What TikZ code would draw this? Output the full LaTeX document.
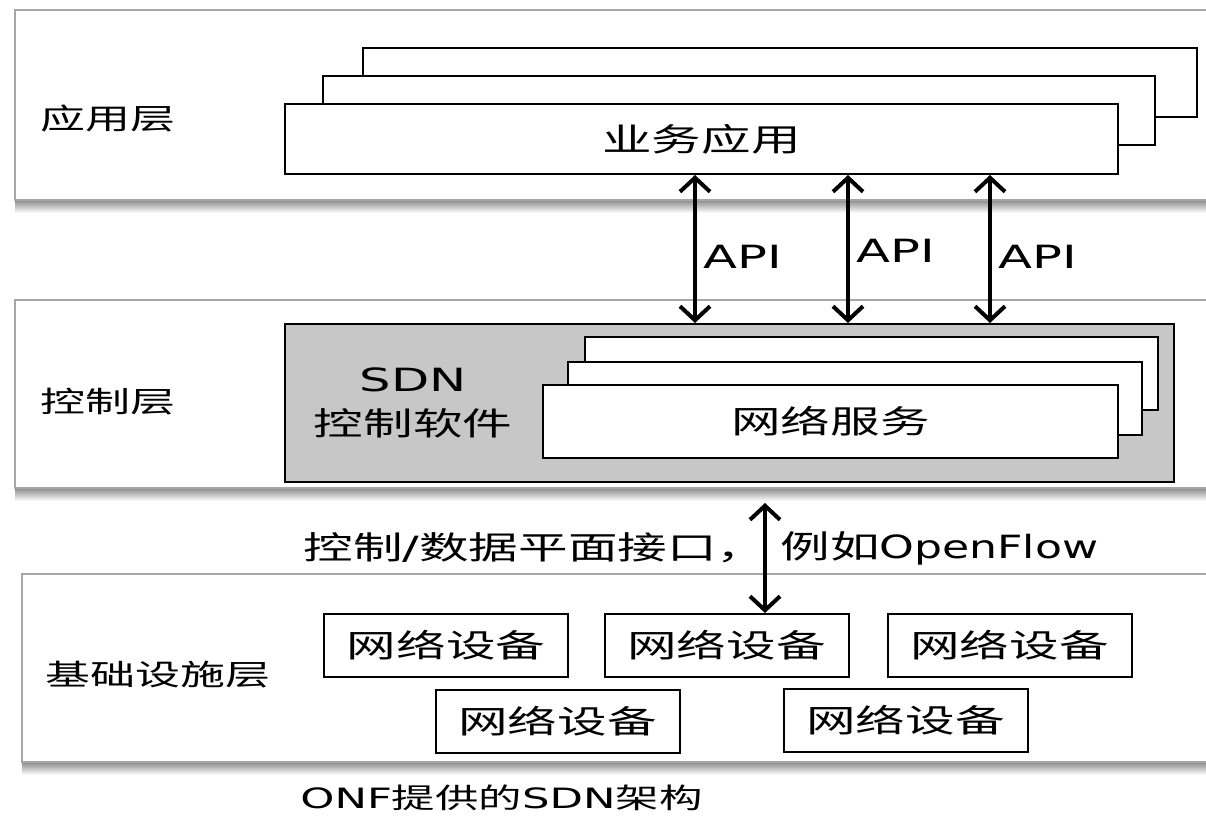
\documentclass[tikz,border=0pt]{standalone}
\usepackage{fontspec}
\setmainfont{DejaVu Sans}[FakeStretch=1.55]
\newfontfamily\cjk{Noto Sans CJK SC}[FakeStretch=1.55]
\newfontfamily\narrowlatin{DejaVu Sans}[FakeStretch=1.38]
\usetikzlibrary{arrows.meta,fit}

\begin{document}
\begin{tikzpicture}[x=0.5pt,y=-0.5pt,
		layerbox/.style={draw=black!35,line width=0.6pt,fill=white,inner sep=0pt},
		stackbox/.style={draw,line width=1pt,fill=white,inner sep=0pt},
		devbox/.style={draw,line width=1pt,fill=white,minimum width=122pt,minimum height=31.5pt,inner sep=0pt,font=\cjk\fontsize{16}{19}\selectfont},
		layertext/.style={anchor=west,inner sep=0pt,font=\cjk\fontsize{14.5}{17}\selectfont},
		bigtext/.style={font=\fontsize{16}{22}\selectfont},
		biarrow/.style={{Straight Barb[length=7pt,width=15pt]}-{Straight Barb[length=7pt,width=15pt]},line width=2pt}
		]
		\useasboundingbox (0,0) rectangle (1206,815);
		\fill[white] (0,0) rectangle (1206,815);

		\shade[top color=black!60,bottom color=white] (15,196) rectangle (1210,213);
		\node[layerbox,fit={(15,10) (1210,200)}](applayer){};
		\node[layertext] at (40,118){应用层};
		\node[stackbox,fit={(363,48) (1197,117)}](app3){};
		\node[stackbox,fit={(323,76) (1155,145)}](app2){};
		\node[stackbox,fit={(285,104) (1118,174)}](app1){};
		\node[bigtext,font=\cjk\fontsize{16}{19}\selectfont] at (app1.center){业务应用};

		\shade[top color=black!60,bottom color=white] (15,484) rectangle (1210,501);
		\node[layerbox,fit={(15,300) (1210,488)}](ctrllayer){};
		\node[layertext] at (40,402){控制层};
		\node[draw,line width=1pt,fill=black!22,inner sep=0pt,fit={(285,324) (1174,482)}](sdn){};
		\node[stackbox,fit={(585,337) (1158,410)}](svc3){};
		\node[stackbox,fit={(568,362) (1142,435)}](svc2){};
		\node[stackbox,fit={(543,385) (1118,458)}](svc1){};
		\node[font=\cjk\fontsize{16}{19}\selectfont] at (svc1.center){网络服务};
		\node[bigtext,align=center](sdntext) at (413,403){SDN\\{\cjk 控制软件}};

		\coordinate (a1) at (695,0);
		\coordinate (a2) at (848,0);
		\coordinate (a3) at (990,0);
		\draw[biarrow] (app1.south -| a1) -- (sdn.north -| a1) node[bigtext,pos=0.55,right](api1){API};
		\draw[biarrow] (app1.south -| a2) -- (sdn.north -| a2) node[bigtext,pos=0.51,right](api2){API};
		\draw[biarrow] (app1.south -| a3) -- (sdn.north -| a3) node[bigtext,pos=0.55,right](api3){API};

		\shade[top color=black!60,bottom color=white] (22,758) rectangle (1210,775);
		\node[layerbox,fit={(22,574) (1210,762)}](infralayer){};
		\node[layertext] at (45,675){基础设施层};
		\node[devbox](dev1) at (446,645.5){网络设备};
		\node[devbox](dev2) at (726.5,645.5){网络设备};
		\node[devbox](dev3) at (1009.5,645.5){网络设备};
		\node[devbox](dev4) at (557.5,721.5){网络设备};
		\node[devbox](dev5) at (905.5,720){网络设备};

		\coordinate (cd) at (765,503);
		\draw[biarrow] (cd) -- (cd |- dev2.north);
		\node[bigtext,anchor=west,inner sep=0pt](iftext) at (303,548){{\cjk 控制}/{\cjk 数据平面接口，}};
		\node[bigtext,anchor=west,inner sep=0pt](oftext) at (780,548){{\cjk 例如}{\narrowlatin OpenFlow}};

		\node[anchor=west,inner sep=0pt,font=\fontsize{14}{17}\selectfont](caption) at (300,798){ONF{\cjk 提供的}SDN{\cjk 架构}};
	\end{tikzpicture}
\end{document}
